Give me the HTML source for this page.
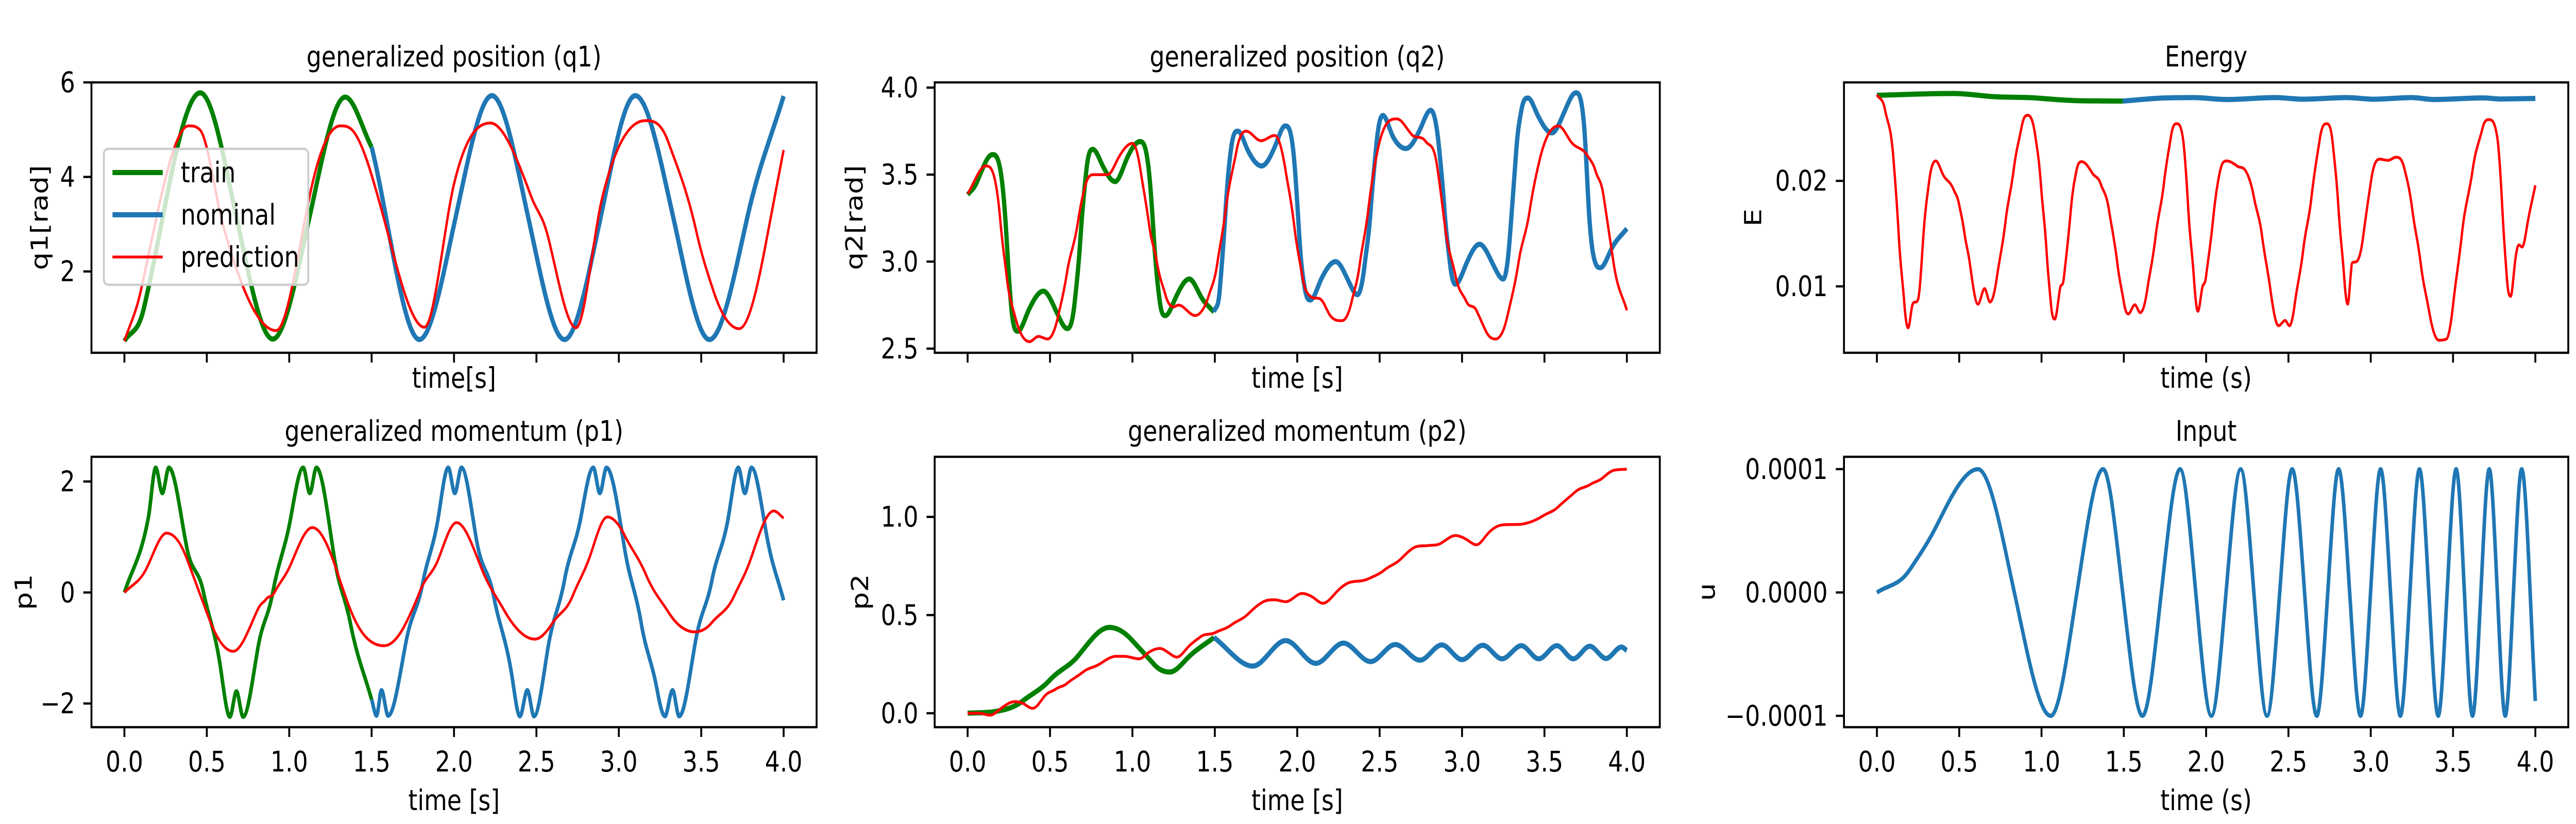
<!DOCTYPE html>
<html><head><meta charset="utf-8"><style>
html,body{margin:0;padding:0;background:#fff;overflow:hidden;width:100vw;height:100vh;}
svg{display:block;width:100vw;height:100vh;font-family:"DejaVu Sans","Liberation Sans",sans-serif;}
</style></head><body>
<svg id="fig" xmlns="http://www.w3.org/2000/svg" viewBox="0 0 6000 1600" preserveAspectRatio="none">
<rect width="6000" height="1600" fill="#fff"/>
</svg>
<script>
// ---------- data (time [s], value) ----------
const q1TrainT=[0,0.12,0.23,0.46,0.68,0.90,1.12,1.34,1.5];
const q1TrainV=[0.53,1.25,3.1,5.78,3.15,0.57,3.1,5.69,4.63];
const q1NomT=[1.5,1.79,2.01,2.23,2.45,2.67,2.89,3.10,3.33,3.55,3.78,4.0];
const q1NomV=[4.63,0.56,3.15,5.72,3.15,0.56,3.15,5.72,3.15,0.56,3.15,5.71];
const q1PredT=[0,0.1,0.39,0.46,0.6,0.92,1.14,1.31,1.38,1.57,1.82,2.0,2.22,2.47,2.57,2.74,2.90,3.16,3.30,3.47,3.57,3.73,3.90,4.0];
const q1PredV=[0.53,1.6,5.08,4.99,2.96,0.75,3.85,5.08,5.0,3.18,0.82,3.85,5.14,3.57,2.74,0.81,3.57,5.19,4.74,2.85,1.63,0.79,2.74,4.57];

const p1TrainT=[0,0.146,0.19,0.23,0.27,0.38,0.48,0.58,0.64,0.68,0.72,0.81,0.90,1.01,1.085,1.125,1.165,1.275,1.37,1.5];
const p1TrainV=[0,1.36,2.25,1.79,2.25,0.79,0,-1.29,-2.24,-1.78,-2.24,-1.0,0,1.36,2.25,1.79,2.25,0.6,-0.54,-1.93];
const p1NomT=[1.5,1.53,1.56,1.60,1.71,1.81,1.905,1.965,2.005,2.045,2.14,2.24,2.35,2.40,2.445,2.485,2.57,2.67,2.77,2.845,2.885,2.925,3.035,3.135,3.23,3.28,3.326,3.366,3.466,3.565,3.665,3.725,3.765,3.805,3.897,4.0];
const p1NomV=[-1.93,-2.22,-1.76,-2.22,-0.87,0.17,1.36,2.25,1.79,2.25,0.89,-0.06,-1.48,-2.23,-1.76,-2.23,-1.0,0.22,1.36,2.25,1.79,2.25,0.79,-0.54,-1.72,-2.23,-1.76,-2.23,-0.87,0.22,1.36,2.25,1.79,2.25,1.03,-0.14];
const p1PredT=[0,0.13,0.256,0.38,0.51,0.66,0.81,0.86,0.91,1.01,1.14,1.275,1.39,1.575,1.71,1.79,1.905,2.015,2.17,2.30,2.49,2.60,2.72,2.835,2.93,3.035,3.165,3.30,3.46,3.565,3.70,3.80,3.94,4.0];
const p1PredV=[0,0.41,1.07,0.6,-0.44,-1.06,-0.3,-0.12,0,0.51,1.17,0.51,-0.44,-0.96,-0.54,0,0.6,1.26,0.41,-0.3,-0.84,-0.54,-0.06,0.74,1.36,1.03,0.32,-0.35,-0.71,-0.54,-0.06,0.6,1.47,1.34];

const q2TrainT=[0,0.053,0.15,0.20,0.236,0.27,0.305,0.37,0.46,0.535,0.605,0.65,0.685,0.72,0.76,0.82,0.895,0.97,1.047,1.10,1.13,1.166,1.2,1.266,1.345,1.415,1.495];
const q2TrainV=[3.385,3.45,3.615,3.52,3.14,2.69,2.60,2.72,2.83,2.72,2.615,2.77,3.14,3.52,3.645,3.55,3.46,3.60,3.69,3.52,3.14,2.77,2.69,2.80,2.90,2.80,2.71];
const q2NomT=[1.495,1.53,1.565,1.6,1.64,1.70,1.784,1.864,1.927,1.98,2.013,2.047,2.08,2.146,2.233,2.31,2.365,2.41,2.445,2.48,2.52,2.58,2.66,2.745,2.81,2.86,2.894,2.927,2.96,3.027,3.106,3.19,3.25,3.29,3.326,3.36,3.40,3.46,3.545,3.625,3.69,3.74,3.77,3.81,3.84,3.905,4.0];
const q2NomV=[2.71,2.84,3.29,3.66,3.75,3.64,3.55,3.66,3.78,3.60,3.14,2.84,2.78,2.90,3.0,2.89,2.81,2.99,3.29,3.67,3.84,3.72,3.65,3.76,3.87,3.66,3.29,2.99,2.87,2.99,3.10,2.98,2.90,3.14,3.60,3.87,3.94,3.84,3.74,3.87,3.97,3.79,3.29,2.99,2.965,3.07,3.19];
const q2PredT=[0,0.11,0.17,0.20,0.236,0.286,0.375,0.43,0.485,0.55,0.60,0.668,0.718,0.767,0.85,0.917,1.0,1.05,1.10,1.15,1.2,1.25,1.28,1.38,1.465,1.515,1.565,1.63,1.69,1.78,1.864,1.93,1.98,2.03,2.08,2.146,2.2,2.27,2.33,2.38,2.43,2.495,2.605,2.695,2.78,2.845,2.894,2.96,3.027,3.087,3.145,3.203,3.276,3.342,3.41,3.475,3.585,3.66,3.76,3.81,3.86,3.92,4.0];
const q2PredV=[3.39,3.55,3.45,3.22,2.92,2.69,2.54,2.57,2.555,2.69,2.92,3.22,3.45,3.50,3.50,3.60,3.68,3.52,3.22,2.99,2.81,2.74,2.75,2.69,2.81,2.99,3.29,3.63,3.75,3.695,3.725,3.52,3.22,2.92,2.80,2.78,2.69,2.66,2.77,2.99,3.29,3.67,3.82,3.73,3.69,3.57,3.22,2.92,2.77,2.72,2.60,2.555,2.69,2.99,3.29,3.60,3.78,3.69,3.61,3.52,3.37,2.99,2.72];

const p2TrainT=[0,0.17,0.335,0.50,0.668,0.86,1.0,1.13,1.226,1.33,1.495];
const p2TrainV=[0,0.009,0.063,0.17,0.29,0.437,0.37,0.25,0.21,0.277,0.386];
const p2NomT=[1.495,1.73,1.93,2.113,2.28,2.445,2.595,2.745,2.877,3.0,3.126,3.243,3.36,3.465,3.575,3.675,3.775,3.874,3.967,4.0];
const p2NomV=[0.386,0.24,0.37,0.254,0.357,0.263,0.35,0.27,0.348,0.273,0.346,0.277,0.344,0.277,0.344,0.277,0.341,0.279,0.337,0.32];
const p2PredT=[0,0.07,0.136,0.2,0.286,0.336,0.395,0.47,0.535,0.60,0.70,0.80,0.90,0.95,1.04,1.1,1.166,1.216,1.27,1.33,1.415,1.5,1.6,1.70,1.80,1.864,1.93,2.03,2.096,2.156,2.23,2.296,2.43,2.53,2.628,2.728,2.794,2.86,2.96,3.027,3.087,3.16,3.243,3.36,3.49,3.585,3.685,3.78,3.85,3.92,4.0];
const p2PredV=[0,0,-0.01,0.023,0.059,0.05,0.025,0.09,0.123,0.15,0.21,0.25,0.29,0.29,0.277,0.31,0.33,0.31,0.286,0.33,0.39,0.41,0.45,0.504,0.57,0.578,0.568,0.61,0.59,0.56,0.61,0.658,0.684,0.73,0.785,0.85,0.854,0.861,0.905,0.885,0.858,0.918,0.959,0.963,1.005,1.052,1.126,1.166,1.196,1.237,1.243];

const eTrainT=[0,0.465,0.70,0.96,1.195,1.494];
const eTrainV=[0.02811,0.02828,0.02799,0.02786,0.02761,0.02756];
const eNomT=[1.494,1.69,1.925,2.125,2.42,2.59,2.855,3.02,3.25,3.385,3.685,3.784,4.0];
const eNomV=[0.02756,0.02781,0.02789,0.02771,0.02789,0.02774,0.02789,0.02774,0.02789,0.02771,0.02786,0.02776,0.02781];
const ePredT=[0,0.05,0.10,0.133,0.166,0.19,0.216,0.25,0.282,0.315,0.358,0.398,0.465,0.50,0.53,0.564,0.614,0.654,0.687,0.73,0.78,0.83,0.88,0.916,0.963,0.996,1.03,1.056,1.08,1.112,1.135,1.178,1.212,1.245,1.31,1.36,1.41,1.46,1.50,1.527,1.567,1.60,1.643,1.693,1.743,1.786,1.82,1.86,1.892,1.925,1.95,1.975,2.0,2.04,2.085,2.125,2.19,2.24,2.29,2.34,2.39,2.44,2.48,2.506,2.54,2.59,2.64,2.69,2.732,2.77,2.805,2.838,2.86,2.888,2.915,2.954,3.004,3.054,3.104,3.154,3.204,3.253,3.303,3.353,3.413,3.46,3.502,3.552,3.618,3.678,3.718,3.768,3.80,3.826,3.85,3.876,3.90,3.92,3.947,4.0];
const ePredV=[0.02816,0.02667,0.02219,0.01473,0.00851,0.00607,0.00826,0.00876,0.01473,0.0197,0.02189,0.0207,0.0192,0.01771,0.01522,0.01224,0.00831,0.0098,0.00851,0.011,0.0160,0.02095,0.02517,0.02622,0.02418,0.0197,0.01348,0.00851,0.00689,0.00975,0.01075,0.01721,0.02095,0.02182,0.0207,0.0197,0.01721,0.01224,0.00851,0.00739,0.00826,0.00751,0.00975,0.01473,0.0197,0.02418,0.02542,0.02393,0.01721,0.011,0.00764,0.00975,0.011,0.0160,0.02095,0.02189,0.02139,0.02095,0.01846,0.01473,0.00975,0.00627,0.00677,0.00627,0.00851,0.01348,0.01846,0.02393,0.02542,0.02343,0.01721,0.011,0.00831,0.01224,0.01236,0.01473,0.0202,0.02206,0.02194,0.02224,0.02119,0.01721,0.01224,0.00776,0.0049,0.00502,0.00851,0.01473,0.02095,0.02493,0.0258,0.02418,0.01721,0.011,0.00906,0.01224,0.01393,0.01373,0.01547,0.01958];

const uT=[0,0.2,0.365,0.614,0.835,1.056,1.215,1.374,1.493,1.613,1.728,1.842,1.937,2.032,2.121,2.21,2.29,2.37,2.447,2.523,2.598,2.672,2.739,2.805,2.872,2.938,2.999,3.06,3.12,3.18,3.238,3.296,3.353,3.41,3.464,3.519,3.569,3.618,3.669,3.72,3.769,3.817,3.867,3.917,4.0];
const uV=[0,0.185e-4,0.547e-4,1e-4,0,-1e-4,0,1e-4,0,-1e-4,0,1e-4,0,-1e-4,0,1e-4,0,-1e-4,0,1e-4,0,-1e-4,0,1e-4,0,-1e-4,0,1e-4,0,-1e-4,0,1e-4,0,-1e-4,0,1e-4,0,-1e-4,0,1e-4,0,-1e-4,0,1e-4,-0.88e-4];

const xTicks=[0,0.5,1.0,1.5,2.0,2.5,3.0,3.5,4.0];
const xTickLabels=["0.0","0.5","1.0","1.5","2.0","2.5","3.0","3.5","4.0"];
const q1Ticks=[2,4,6], q1Labels=["2","4","6"];
const p1Ticks=[-2,0,2], p1Labels=["\u22122","0","2"];
const q2Ticks=[2.5,3.0,3.5,4.0], q2Labels=["2.5","3.0","3.5","4.0"];
const p2Ticks=[0,0.5,1.0], p2Labels=["0.0","0.5","1.0"];
const eTicks=[0.01,0.02], eLabels=["0.01","0.02"];
const uTicks=[-1e-4,0,1e-4], uLabels=["\u22120.0001","0.0000","0.0001"];

// ---------- rendering ----------
const NS="http://www.w3.org/2000/svg";
const fig=document.getElementById('fig');
const FS=55;
function mk(tag,attrs,parent){const e=document.createElementNS(NS,tag);for(const k in attrs)e.setAttribute(k,attrs[k]);(parent||fig).appendChild(e);return e;}
// smooth cubic Hermite: zero tangent at local extrema, boosted central tangent elsewhere (limited)
function pathD(px){
  const n=px.length;
  if(n<2)return '';
  const dx=[],m=[];
  for(let i=0;i<n-1;i++){dx.push(px[i+1][0]-px[i][0]);m.push((px[i+1][1]-px[i][1])/(dx[i]||1e-6));}
  const tg=new Array(n);
  tg[0]=m[0];tg[n-1]=m[n-2];
  for(let i=1;i<n-1;i++){
    if(m[i-1]*m[i]<=0)tg[i]=0;
    else{
      let t=(px[i+1][1]-px[i-1][1])/(px[i+1][0]-px[i-1][0])*1.35;
      const lim=3*Math.min(Math.abs(m[i-1]),Math.abs(m[i]));
      if(Math.abs(t)>lim)t=Math.sign(t)*lim;
      tg[i]=t;
    }
  }
  let d='M'+px[0][0].toFixed(1)+','+px[0][1].toFixed(1);
  for(let i=0;i<n-1;i++){
    const h=dx[i]/3;
    d+=' C'+(px[i][0]+h).toFixed(1)+','+(px[i][1]+tg[i]*h).toFixed(1)+' '+(px[i+1][0]-h).toFixed(1)+','+(px[i+1][1]-tg[i+1]*h).toFixed(1)+' '+px[i+1][0].toFixed(1)+','+px[i+1][1].toFixed(1);
  }
  return d;
}
let clipId=0;
function panel(o){
  const g=mk('g',{});
  
  
  const sx=v=>o.L+(v+0.2)/4.4*(o.R-o.L);
  const sy=v=>o.B-(v-o.ymin)/(o.ymax-o.ymin)*(o.B-o.T);
  const cid='clip'+(clipId++);
  const cp=mk('clipPath',{id:cid},g);mk('rect',{x:o.L,y:o.T,width:o.R-o.L,height:o.B-o.T},cp);
  const lg=mk('g',{'clip-path':'url(#'+cid+')'},g);
  o.series.forEach(s=>{
    const px=s.t.map((t,i)=>[sx(t),sy(s.v[i])]);
    const p=mk('path',{d:pathD(px),fill:'none',stroke:s.color,'stroke-width':s.w,'stroke-linejoin':'round','stroke-linecap':'butt'},lg);
    
    
  });
  const fr=mk('rect',{x:o.L,y:o.T,width:o.R-o.L,height:o.B-o.T,fill:'none',stroke:'#000','stroke-width':4.4},g);
  
  
  xTicks.forEach((t,i)=>{
    const x=sx(t);
    mk('line',{x1:x,y1:o.B,x2:x,y2:o.B+19,stroke:'#000','stroke-width':4.4},g);
    if(o.xlabels){
      const tx=mk('text',{x:x,y:o.B+67,'font-size':FS,'text-anchor':'middle','dominant-baseline':'central'},g);
      tx.textContent=xTickLabels[i];
      
      
    }
  });
  o.yt.forEach((v,i)=>{
    const y=sy(v);
    mk('line',{x1:o.L-19,y1:y,x2:o.L,y2:y,stroke:'#000','stroke-width':4.4},g);
    const tx=mk('text',{x:o.L-38,y:y,'font-size':FS,'text-anchor':'end','dominant-baseline':'central'},g);
    tx.textContent=o.yl[i];
    
    
  });
  const ti=mk('text',{x:(o.L+o.R)/2,y:o.T-50,'font-size':FS,'text-anchor':'middle','dominant-baseline':'central'},g);
  ti.textContent=o.title;
  
  
  const xl=mk('text',{x:(o.L+o.R)/2,y:o.xlabels?o.B+142:o.B+49,'font-size':FS,'text-anchor':'middle','dominant-baseline':'central'},g);
  xl.textContent=o.xlabel;
  
  
  const cy=(o.T+o.B)/2;
  const yl=mk('text',{x:o.ylx,y:cy,'font-size':FS,'text-anchor':'middle','dominant-baseline':'central',transform:'rotate(-90 '+o.ylx+' '+cy+')'},g);
  yl.textContent=o.ylabel;
  
  
  return g;
}
const G='#008000',B='#1f77b4',R='#ff0000';
const C1={L:213,R:1902},C2={L:2177,R:3866},C3={L:4295,R:5982};
const TOP={T:160,B:685},BOT={T:887,B:1412};

panel({name:'q1-panel',...C1,...TOP,ymin:0.28,ymax:6.0,yt:q1Ticks,yl:q1Labels,title:'generalized position (q1)',xlabel:'time[s]',ylabel:'q1[rad]',ylx:92,xlabels:false,
  series:[{name:'q1-train',t:q1TrainT,v:q1TrainV,color:G,w:10},{name:'q1-nominal',t:q1NomT,v:q1NomV,color:B,w:10},{name:'q1-prediction',t:q1PredT,v:q1PredV,color:R,w:5.5}]});
panel({name:'p1-panel',...C1,...BOT,ymin:-2.427,ymax:2.445,yt:p1Ticks,yl:p1Labels,title:'generalized momentum (p1)',xlabel:'time [s]',ylabel:'p1',ylx:55,xlabels:true,
  series:[{name:'p1-train',t:p1TrainT,v:p1TrainV,color:G,w:8.3},{name:'p1-nominal',t:p1NomT,v:p1NomV,color:B,w:8.3},{name:'p1-prediction',t:p1PredT,v:p1PredV,color:R,w:5.5}]});
panel({name:'q2-panel',...C2,...TOP,ymin:2.476,ymax:4.03,yt:q2Ticks,yl:q2Labels,title:'generalized position (q2)',xlabel:'time [s]',ylabel:'q2[rad]',ylx:1990,xlabels:false,
  series:[{name:'q2-train',t:q2TrainT,v:q2TrainV,color:G,w:10},{name:'q2-nominal',t:q2NomT,v:q2NomV,color:B,w:10},{name:'q2-prediction',t:q2PredT,v:q2PredV,color:R,w:5.5}]});
panel({name:'p2-panel',...C2,...BOT,ymin:-0.071,ymax:1.306,yt:p2Ticks,yl:p2Labels,title:'generalized momentum (p2)',xlabel:'time [s]',ylabel:'p2',ylx:2003,xlabels:true,
  series:[{name:'p2-train',t:p2TrainT,v:p2TrainV,color:G,w:10},{name:'p2-nominal',t:p2NomT,v:p2NomV,color:B,w:10},{name:'p2-prediction',t:p2PredT,v:p2PredV,color:R,w:5.5}]});
panel({name:'energy-panel',...C3,...TOP,ymin:0.00371,ymax:0.02933,yt:eTicks,yl:eLabels,title:'Energy',xlabel:'time (s)',ylabel:'E',ylx:4083,xlabels:false,
  series:[{name:'energy-train',t:eTrainT,v:eTrainV,color:G,w:10},{name:'energy-nominal',t:eNomT,v:eNomV,color:B,w:10},{name:'energy-prediction',t:ePredT,v:ePredV,color:R,w:5.5}]});
panel({name:'input-panel',...C3,...BOT,ymin:-1.092e-4,ymax:1.1e-4,yt:uTicks,yl:uLabels,title:'Input',xlabel:'time (s)',ylabel:'u',ylx:3975,xlabels:true,
  series:[{name:'input-u',t:uT,v:uV,color:B,w:8.3}]});

// legend
const lgd=mk('g',{});


mk('rect',{x:242,y:289,width:476,height:264,rx:10,fill:'#fff','fill-opacity':0.8,stroke:'#cccccc','stroke-width':4.4},lgd);
[['train',G,10,335],['nominal',B,10,417],['prediction',R,5.5,499]].forEach(e=>{
  mk('line',{x1:262,y1:e[3],x2:379,y2:e[3],stroke:e[1],'stroke-width':e[2]},lgd);
  const t=mk('text',{x:421,y:e[3],'font-size':FS,'dominant-baseline':'central'},lgd);
  t.textContent=e[0];
  
  
});
</script>
</body></html>
